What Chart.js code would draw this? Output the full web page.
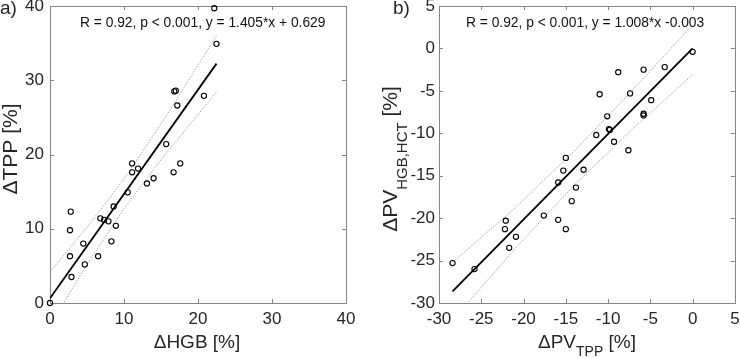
<!DOCTYPE html>
<html>
<head>
<meta charset="utf-8">
<script src="https://cdn.jsdelivr.net/npm/chart.js@4.4.1/dist/chart.umd.min.js"></script>
<style>
  html, body { margin: 0; padding: 0; background: #fff; }
  .panel { position: absolute; top: 0; width: 370px; height: 358px; }
</style>
</head>
<body>
<div class="panel" style="left:0"><canvas id="chartA" width="370" height="358"></canvas></div>
<div class="panel" style="left:370px"><canvas id="chartB" width="370" height="358"></canvas></div>
<script>
// ---- panel a): dTPP vs dHGB ----
const hgbX = [0, 2.8, 2.7, 2.7, 2.9, 4.5, 4.7, 6.5, 6.8, 7.3, 7.9, 8.3, 8.6, 8.9, 10.5,
  11.1, 11.1, 11.9, 13.1, 14.0, 16.7, 17.6, 22.2, 22.5, 16.8, 17.0, 17.2, 20.8, 15.7];
const tppY = [0, 12.3, 9.8, 6.3, 3.5, 8.0, 5.2, 6.3, 11.4, 11.2, 11.0, 8.3, 13.0, 10.4, 14.9,
  18.8, 17.6, 18.1, 16.1, 16.8, 17.6, 18.8, 39.7, 34.9, 28.5, 28.6, 26.6, 27.9, 21.4];
const fitAx = [0, 22.5];
const fitAy = [0.63, 32.24];
const bandAx = [0, 5, 10, 15, 22.5];
const bandAhi = [4.2, 10.2, 16.7, 24.1, 36.0];
const bandAlo = [-3.0, 5.2, 12.7, 19.3, 28.4];
const ticksA = [0, 10, 20, 30, 40];

// ---- panel b): dPV(HGB,HCT) vs dPV(TPP) ----
const pvTppX = [0.0, -3.3, -5.8, -8.8, -11.0, -7.4, -4.9, -10.1, -5.8, -5.8, -9.9, -9.8, -11.4,
  -9.3, -7.6, -15.0, -15.3, -12.9, -15.9, -13.8, -14.3, -17.6, -15.9, -15.0, -22.1, -22.2,
  -20.9, -21.7, -28.4, -25.8];
const pvHgbY = [-0.4, -2.2, -2.5, -2.8, -5.4, -5.3, -6.1, -8.0, -7.9, -7.7, -9.5, -9.6, -10.2,
  -11.0, -12.0, -12.9, -14.4, -14.3, -15.8, -16.4, -18.0, -19.7, -20.2, -21.3, -20.3, -21.3,
  -22.2, -23.5, -25.3, -26.0];
const fitBx = [-28.4, 0];
const fitBy = [-28.63, 0];
const bandBx = [-28.4, -21, -14, -7, 0];
const bandBhi = [-25.2, -18.8, -12.1, -4.8, 2.8];
const bandBlo = [-32.0, -23.6, -16.1, -9.4, -3.1];
const ticksB = [-30, -25, -20, -15, -10, -5, 0, 5];

const TXT = '#262626';
const FRAME = '#858585';
const FONT = 'Arial, "Liberation Sans", Helvetica, sans-serif';

const pts = (xs, ys) => xs.map((x, i) => ({ x, y: ys[i] }));

// draws a row of text pieces (main text + subscripts) centred on x
function richText(ctx, parts, x, y) {
  const w = parts.reduce((s, p) => {
    ctx.font = p.size + 'px ' + FONT;
    return s + ctx.measureText(p.t).width;
  }, 0);
  let cx = x - w / 2;
  parts.forEach(p => {
    ctx.font = p.size + 'px ' + FONT;
    ctx.fillText(p.t, cx, y + (p.dy || 0));
    cx += ctx.measureText(p.t).width;
  });
}

const decor = {
  id: 'decor',
  beforeDatasetsDraw(chart) {
    const { ctx, chartArea: a, scales } = chart;
    ctx.save();
    ctx.strokeStyle = FRAME;
    ctx.lineWidth = 1;
    ctx.strokeRect(Math.round(a.left) + 0.5, Math.round(a.top) + 0.5,
      Math.round(a.right - a.left), Math.round(a.bottom - a.top));
    ctx.beginPath();
    scales.x.ticks.forEach(t => {
      const px = Math.round(scales.x.getPixelForValue(t.value)) + 0.5;
      if (px <= a.left + 1 || px >= a.right - 1) return;
      ctx.moveTo(px, a.bottom); ctx.lineTo(px, a.bottom - 4);
      ctx.moveTo(px, a.top); ctx.lineTo(px, a.top + 4);
    });
    scales.y.ticks.forEach(t => {
      const py = Math.round(scales.y.getPixelForValue(t.value)) + 0.5;
      if (py <= a.top + 1 || py >= a.bottom - 1) return;
      ctx.moveTo(a.left, py); ctx.lineTo(a.left + 4, py);
      ctx.moveTo(a.right, py); ctx.lineTo(a.right - 4, py);
    });
    ctx.stroke();
    ctx.restore();
  },
  afterDraw(chart, args, o) {
    const ctx = chart.ctx;
    ctx.save();
    ctx.fillStyle = TXT;
    ctx.textBaseline = 'alphabetic';
    ctx.textAlign = 'left';
    // panel letter
    ctx.font = '19px ' + FONT;
    ctx.fillText(o.letter, o.letterX, 14);
    // statistics line
    ctx.fillStyle = '#111';
    ctx.font = '13.8px ' + FONT;
    ctx.fillText(o.stats, o.statsX, 27);
    ctx.fillStyle = TXT;
    // x title
    richText(ctx, o.xTitle, o.xTitleX, 348);
    // y title, rotated
    ctx.translate(o.yTitleX, o.yTitleY);
    ctx.rotate(-Math.PI / 2);
    richText(ctx, o.yTitle, 0, 0);
    ctx.restore();
  }
};

function makeChart(id, cfg) {
  const tickFont = { family: FONT, size: 17 };
  const band = {
    showLine: true, pointRadius: 0,
    borderColor: '#8c8c8c', borderWidth: 0.8, borderDash: [1.5, 1.5]
  };
  return new Chart(document.getElementById(id), {
    type: 'scatter',
    data: {
      datasets: [
        {
          data: pts(cfg.px, cfg.py),
          pointStyle: 'circle',
          pointRadius: 2.6,
          borderColor: '#000',
          borderWidth: 1.1,
          backgroundColor: 'rgba(0,0,0,0)',
          clip: false
        },
        {
          data: pts(cfg.fx, cfg.fy),
          showLine: true, pointRadius: 0,
          borderColor: '#000', borderWidth: 1.8
        },
        Object.assign({ data: pts(cfg.bx, cfg.bhi) }, band),
        Object.assign({ data: pts(cfg.bx, cfg.blo) }, band)
      ]
    },
    options: {
      responsive: false,
      animation: false,
      events: [],
      devicePixelRatio: 1,
      layout: { padding: { left: 0, right: cfg.padRight, top: 6, bottom: 0 } },
      plugins: {
        legend: { display: false },
        tooltip: { enabled: false },
        decor: cfg.decor
      },
      scales: {
        x: {
          type: 'linear', min: cfg.ticks[0], max: cfg.ticks[cfg.ticks.length - 1],
          grid: { display: false, drawTicks: false },
          border: { display: false },
          ticks: { font: tickFont, color: TXT, padding: 6, maxRotation: 0, autoSkip: false },
          afterBuildTicks: s => { s.ticks = cfg.ticks.map(v => ({ value: v })); },
          afterFit: s => { s.height = 55; s.paddingLeft = 0; s.paddingRight = 0; }
        },
        y: {
          type: 'linear', min: cfg.ticks[0], max: cfg.ticks[cfg.ticks.length - 1],
          grid: { display: false, drawTicks: false },
          border: { display: false },
          ticks: { font: tickFont, color: TXT, padding: cfg.yPad, autoSkip: false },
          afterBuildTicks: s => { s.ticks = cfg.ticks.map(v => ({ value: v })); },
          afterFit: s => { s.width = cfg.yWidth; s.paddingTop = 0; s.paddingBottom = 0; }
        }
      }
    },
    plugins: [decor]
  });
}

makeChart('chartA', {
  px: hgbX, py: tppY, fx: fitAx, fy: fitAy,
  bx: bandAx, bhi: bandAhi, blo: bandAlo, ticks: ticksA,
  yWidth: 50, padRight: 24, yPad: 6,
  decor: {
    letter: 'a)', letterX: 0,
    stats: 'R = 0.92, p < 0.001, y = 1.405*x + 0.629', statsX: 80,
    xTitle: [{ t: '\u0394HGB [%]', size: 19 }], xTitleX: 197,
    yTitle: [{ t: '\u0394TPP [%]', size: 21 }], yTitleX: 17, yTitleY: 149
  }
});

makeChart('chartB', {
  px: pvTppX, py: pvHgbY, fx: fitBx, fy: fitBy,
  bx: bandBx, bhi: bandBhi, blo: bandBlo, ticks: ticksB,
  yWidth: 69, padRight: 5, yPad: 4,
  decor: {
    letter: 'b)', letterX: 23,
    stats: 'R = 0.92, p < 0.001, y = 1.008*x -0.003', statsX: 96,
    xTitle: [
      { t: '\u0394PV', size: 19 },
      { t: 'TPP', size: 14, dy: 8 },
      { t: ' [%]', size: 19 }
    ], xTitleX: 217,
    yTitle: [
      { t: '\u0394PV', size: 21 },
      { t: 'HGB,HCT', size: 15, dy: 10 },
      { t: ' [%]', size: 21 }
    ], yTitleX: 27, yTitleY: 159
  }
});
</script>
</body>
</html>
